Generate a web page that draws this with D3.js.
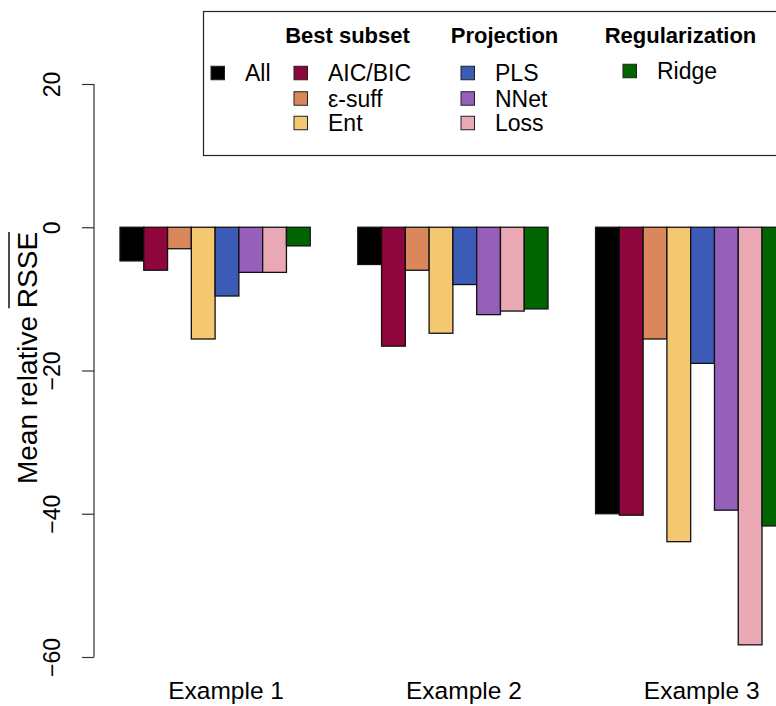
<!DOCTYPE html>
<html>
<head>
<meta charset="utf-8">
<script src="https://cdn.jsdelivr.net/npm/d3@7"></script>
<style>
  body { margin: 0; background: #fff; }
  svg { display: block; font-family: "Liberation Sans", Arial, sans-serif; }
</style>
</head>
<body>
<svg id="chart" width="776" height="706"></svg>
<script>
// data
const examples = ["Example 1", "Example 2", "Example 3"];
const methods = ["All", "AIC/BIC", "ε-suff", "Ent", "PLS", "NNet", "Loss", "Ridge"];
const colors = ["#000000", "#8e063b", "#da885b", "#f4c870", "#3b5bb6", "#9660ba", "#e9a8b4", "#006400"];
const example1 = [-4.7, -6.0, -3.0, -15.6, -9.6, -6.3, -6.3, -2.6];
const example2 = [-5.2, -16.6, -6.0, -14.8, -8.0, -12.2, -11.7, -11.4];
const example3 = [-40.0, -40.2, -15.6, -43.9, -19.0, -39.5, -58.3, -41.7];
const yTicks = [20, 0, -20, -40, -60];

// legend layout: column header + members (indices into methods)
const legendGroups = [
  { title: null, members: [0] },
  { title: "Best subset", members: [1, 2, 3] },
  { title: "Projection", members: [4, 5, 6] },
  { title: "Regularization", members: [7] }
];

const series = [example1, example2, example3];

const svg = d3.select("#chart");

// R barplot style: each group 8 bars with a 2-bar gap, bar units starting at 2
const x = d3.scaleLinear().domain([2, 30]).range([120, 785.8]);
const y = d3.scaleLinear().domain([-60, 20]).range([657, 84]);
const groupStart = g => 2 + g * 10;

// bars
series.forEach((vals, g) => {
  svg.append("g")
    .selectAll("rect")
    .data(vals)
    .enter()
    .append("rect")
      .attr("x", (d, i) => x(groupStart(g) + i))
      .attr("width", x(3) - x(2))
      .attr("y", d => y(Math.max(0, d)))
      .attr("height", d => Math.abs(y(d) - y(0)))
      .attr("fill", (d, i) => colors[i])
      .attr("stroke", "#111")
      .attr("stroke-width", 1.3);
});

// group labels
svg.append("g")
  .selectAll("text")
  .data(examples)
  .enter()
  .append("text")
    .attr("x", (d, g) => x(groupStart(g) + 4) + 11)
    .attr("y", 699)
    .attr("text-anchor", "middle")
    .attr("font-size", 24.5)
    .text(d => d);

// y axis
const yAxis = d3.axisLeft(y)
  .tickValues(yTicks)
  .tickSize(12)
  .tickFormat(d3.format("d"));

const axisG = svg.append("g")
  .attr("transform", "translate(94,0)")
  .call(yAxis);
axisG.select(".domain").attr("stroke", "#333").attr("stroke-width", 1.2)
  .attr("d", `M0,${y(20)}V${y(-60)}`);
axisG.selectAll(".tick line").attr("stroke", "#333").attr("stroke-width", 1.2);
axisG.selectAll(".tick text")
  .attr("font-size", 23)
  .attr("font-family", "Liberation Sans, Arial, sans-serif")
  .attr("fill", "#000")
  .attr("x", null).attr("y", null).attr("dy", null)
  .attr("text-anchor", "middle")
  .attr("transform", "translate(-34,0) rotate(-90)");

// y label with overline on RSSE
const labelText = svg.append("text")
  .attr("transform", "translate(37,358) rotate(-90)")
  .attr("text-anchor", "middle")
  .attr("font-size", 28)
  .text("Mean relative RSSE");
const total = labelText.node().getComputedTextLength();
const rsse = labelText.node().getSubStringLength(14, 4);
svg.append("line")
  .attr("transform", "translate(37,358) rotate(-90)")
  .attr("x1", total / 2 - rsse)
  .attr("x2", total / 2)
  .attr("y1", -28).attr("y2", -28)
  .attr("stroke", "#000")
  .attr("stroke-width", 1.4);

// legend
const legend = svg.append("g");
legend.append("rect")
  .attr("x", 203.5).attr("y", 11.5)
  .attr("width", 640).attr("height", 144)
  .attr("fill", "#fff")
  .attr("stroke", "#222")
  .attr("stroke-width", 1.2);

const colX = [211, 294, 461, 623];
const headerX = [0, 347.5, 504.5, 680.5];
const rowY = [73, 98.5, 123];

legendGroups.forEach((grp, c) => {
  if (grp.title) {
    legend.append("text")
      .attr("x", headerX[c]).attr("y", 43)
      .attr("text-anchor", "middle")
      .attr("font-size", 22)
      .attr("font-weight", "bold")
      .text(grp.title);
  }
  const rows = legend.append("g")
    .selectAll("g")
    .data(grp.members)
    .enter()
    .append("g")
      .attr("transform", (d, r) => `translate(${colX[c]},${rowY[r] - (c === 3 ? 2 : 0)})`);
  rows.append("rect")
    .attr("x", 0).attr("y", -6.75)
    .attr("width", 13.5).attr("height", 13.5)
    .attr("fill", d => colors[d])
    .attr("stroke", "#222")
    .attr("stroke-width", 1);
  rows.append("text")
    .attr("x", 34).attr("y", 8)
    .attr("font-size", 23)
    .text(d => methods[d]);
});
</script>
</body>
</html>
